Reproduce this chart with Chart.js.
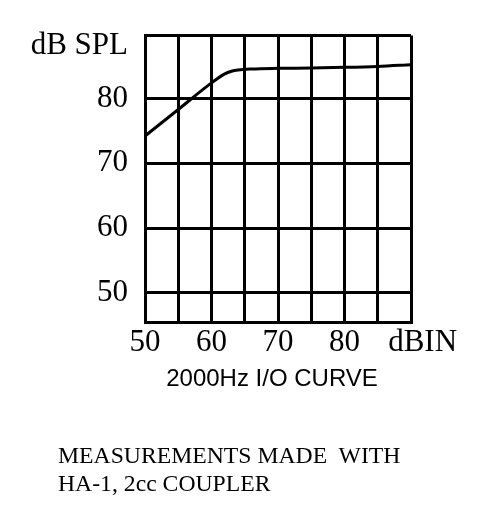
<!DOCTYPE html>
<html>
<head>
<meta charset="utf-8">
<script src="https://cdn.jsdelivr.net/npm/chart.js@4.4.1/dist/chart.umd.min.js"></script>
<style>
  body { margin: 0; background: #fff; }
  #wrap { position: relative; width: 489px; height: 524px; }
  #note {
    position: absolute; left: 58px; top: 441px;
    font: 23.7px "Liberation Serif", "Times New Roman", serif;
    line-height: 28px; color: #000; white-space: pre;
  }
</style>
</head>
<body>
<div id="wrap">
  <canvas id="chart" width="489" height="524"></canvas>
  <div id="note">MEASUREMENTS MADE  WITH
HA-1, 2cc COUPLER</div>
</div>
<script>
// Input level (dB) and output (dB SPL)
const inputDb = [50, 55, 60, 62, 63, 64, 66, 70, 75, 80, 85, 90];
const outputSpl = [74.2, 78.3, 82.4, 83.8, 84.2, 84.4, 84.55, 84.65, 84.7, 84.8, 84.95, 85.2];

// Axis ticks
const xTicks = [50, 55, 60, 65, 70, 75, 80, 85, 90];
const xLabels = ['50', '', '60', '', '70', '', '80', '', '\u2002 dBIN'];
const yMin = 45.5, yMax = 89.7;
const yTicks = [45.5, 50, 60, 70, 80, 88.1, 89.7];
const yLabels = ['', '50', '60', '70', '80', 'dB SPL', ''];

const serif = '"Liberation Serif", "Times New Roman", serif';

const points = inputDb.map((x, i) => ({ x: x, y: outputSpl[i] }));

const ctx = document.getElementById('chart').getContext('2d');
const chart = new Chart(ctx, {
  type: 'line',
  data: {
    datasets: [{
      data: points,
      borderColor: '#000',
      borderWidth: 3,
      pointRadius: 0,
      cubicInterpolationMode: 'monotone',
      fill: false
    }]
  },
  options: {
    responsive: false,
    animation: false,
    layout: { padding: { left: 0, top: 32, right: 78, bottom: 122 } },
    plugins: {
      legend: { display: false },
      tooltip: { enabled: false }
    },
    scales: {
      x: {
        type: 'linear',
        min: 50,
        max: 90,
        afterBuildTicks: (scale) => { scale.ticks = xTicks.map(v => ({ value: v })); },
        afterFit: (scale) => { scale.height = 80; },
        ticks: {
          color: '#000',
          font: { family: serif, size: 31 },
          padding: 2,
          maxRotation: 0,
          autoSkip: false,
          callback: (v) => xLabels[xTicks.indexOf(v)]
        },
        title: {
          display: true,
          text: '2000Hz I/O CURVE\u2002',
          color: '#000',
          font: { family: '"Liberation Sans", Arial, sans-serif', size: 24, weight: 'normal' },
          padding: { top: 0, bottom: 8 }
        },
        grid: { color: '#000', lineWidth: 3, drawTicks: false },
        border: { color: '#000', width: 3 }
      },
      y: {
        min: yMin,
        max: yMax,
        afterBuildTicks: (scale) => { scale.ticks = yTicks.map(v => ({ value: v })); },
        afterFit: (scale) => { scale.width = 145; },
        ticks: {
          color: '#000',
          font: { family: serif, size: 31 },
          padding: 17,
          autoSkip: false,
          callback: (v) => yLabels[yTicks.indexOf(v)]
        },
        grid: {
          color: (c) => (c.tick && c.tick.value === 88.1) ? 'rgba(0,0,0,0)' : '#000',
          lineWidth: 3,
          drawTicks: false
        },
        border: { color: '#000', width: 3 }
      }
    }
  }
});
</script>
</body>
</html>
